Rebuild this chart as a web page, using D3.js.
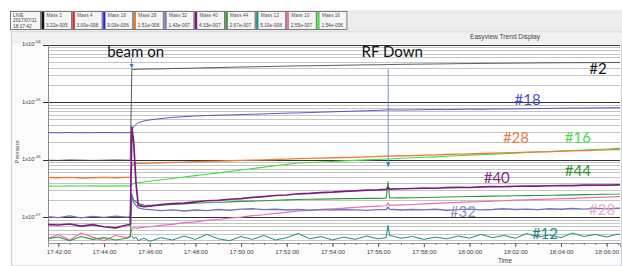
<!DOCTYPE html>
<html>
<head>
<meta charset="utf-8">
<script src="https://cdn.jsdelivr.net/npm/d3@7"></script>
<style>
  body { margin: 0; background: #fff; }
  svg { display: block; }
</style>
</head>
<body>
<div id="trend-chart"></div>
<script>
// pressures are kept in units of 1e-7
const UNIT = 1e-7;
const startTime = new Date(2017, 6, 11, 17, 41, 30);

// sample times, minutes after 17:41:30
const minutes = [0, 0.5, 1, 1.5, 2, 2.5, 3, 3.5, 3.65, 3.72, 3.8, 3.9, 4, 4.25,
  4.5, 5, 5.5, 6, 6.5, 7, 7.5, 8, 8.5, 9, 9.5, 10, 10.5, 11, 11.5, 12, 12.5, 13, 13.5, 14, 14.5,
  14.85, 14.93,
  15, 15.5, 16, 16.5, 17, 17.5, 18, 18.5, 19, 19.5, 20, 20.5, 21, 21.5, 22, 22.5, 23, 23.5, 24, 24.5, 25,
  25.1];

const mass2 = [9.8, 9.7, 9.9, 9.8, 9.7, 9.8, 9.9, 9.8, 9.8, 373, 370, 372, 375, 376,
  378, 380, 385, 388, 392, 398, 400, 405, 410, 412, 416, 420, 424, 428, 430, 433, 436, 440, 443, 446, 448,
  450, 452,
  452, 455, 458, 460, 462, 465, 468, 470, 472, 474, 476, 478, 480, 482, 484, 485, 486, 487, 488, 489, 490,
  490];
const mass18 = [29.5, 29.3, 29.6, 29.4, 29.5, 29.6, 29.4, 29.5, 29.5, 33, 37.5, 41, 44, 47,
  49, 52, 54.5, 56, 57.6, 58.5, 59.5, 60, 61, 61.6, 62.5, 63.5, 64.5, 65, 66, 67, 68, 69, 70, 71, 72,
  73, 74,
  73.5, 73, 73.5, 74, 74.5, 74, 75, 75.5, 75, 76, 76.2, 76.5, 77, 77.5, 78, 78.5, 79, 79.2, 79.6, 80, 80.2,
  80.2];
const mass28 = [4.9, 4.85, 4.9, 4.8, 4.85, 4.9, 4.85, 4.9, 4.9, 8.0, 8.5, 8.6, 8.6, 8.63,
  8.73, 8.83, 8.97, 9.08, 9.19, 9.31, 9.46, 9.57, 9.69, 9.84, 9.95, 10.07, 10.2, 10.4, 10.5, 10.6, 10.8, 10.9, 11.0, 11.2, 11.4,
  11.5, 11.5,
  11.5, 11.7, 11.8, 12.0, 12.1, 12.3, 12.5, 12.6, 12.8, 13.0, 13.1, 13.3, 13.5, 13.7, 13.8, 14.1, 14.2, 14.4, 14.6, 14.8, 15.0,
  15.0];
const mass16 = [3.5, 3.45, 3.5, 3.48, 3.5, 3.46, 3.5, 3.5, 3.5, 3.7, 3.9, 3.95, 3.98, 4.09,
  4.21, 4.46, 4.71, 4.98, 5.27, 5.57, 5.89, 6.23, 6.62, 7.0, 7.41, 7.83, 8.28, 8.77, 8.94, 9.12, 9.31, 9.53, 9.73, 9.93, 10.1,
  10.3, 10.3,
  10.3, 10.6, 10.8, 11.0, 11.2, 11.5, 11.7, 12.0, 12.2, 12.5, 12.7, 13.0, 13.3, 13.6, 13.8, 14.1, 14.4, 14.7, 15.0, 15.3, 15.7,
  15.7];
const mass40 = [0.74, 0.73, 0.76, 0.70, 0.74, 0.68, 0.65, 0.73, 0.74, 37, 20, 4.0, 1.6, 1.52,
  1.55, 1.65, 1.72, 1.76, 1.85, 1.93, 1.96, 2.05, 2.1, 2.2, 2.28, 2.38, 2.43, 2.55, 2.6, 2.68, 2.72, 2.8, 2.86, 2.95, 2.98,
  3.05, 3.3,
  3.08, 3.12, 3.15, 3.2, 3.18, 3.25, 3.3, 3.28, 3.35, 3.4, 3.38, 3.45, 3.48, 3.46, 3.52, 3.55, 3.53, 3.6, 3.62, 3.6, 3.65,
  3.65];
const mass44 = [0.42, 0.45, 0.39, 0.46, 0.41, 0.44, 0.40, 0.43, 0.45, 2.3, 2.0, 1.85, 1.72, 1.63,
  1.6, 1.62, 1.66, 1.7, 1.74, 1.78, 1.8, 1.84, 1.88, 1.9, 1.93, 1.97, 2.0, 2.03, 2.05, 2.06, 2.08, 2.1, 2.1, 2.12, 2.12,
  2.14, 4.1,
  2.15, 2.16, 2.18, 2.2, 2.22, 2.24, 2.26, 2.28, 2.3, 2.32, 2.33, 2.35, 2.37, 2.38, 2.4, 2.42, 2.44, 2.46, 2.48, 2.5, 2.52,
  2.53];
const mass32 = [1.02, 0.98, 1.05, 0.97, 1.03, 0.99, 1.04, 1.0, 1.02, 2.5, 1.8, 1.6, 1.45, 1.38,
  1.35, 1.3, 1.34, 1.28, 1.33, 1.3, 1.36, 1.32, 1.38, 1.4, 1.35, 1.37, 1.33, 1.36, 1.32, 1.35, 1.33, 1.36, 1.34, 1.31, 1.35,
  1.36, 1.5,
  1.37, 1.33, 1.36, 1.34, 1.37, 1.32, 1.35, 1.38, 1.34, 1.36, 1.4, 1.36, 1.38, 1.35, 1.4, 1.37, 1.41, 1.38, 1.42, 1.39, 1.43,
  1.43];
const mass10 = [0.42, 0.50, 0.40, 0.53, 0.45, 0.39, 0.48, 0.44, 0.47, 0.62, 0.66, 0.64, 0.65, 0.67,
  0.68, 0.72, 0.75, 0.8, 0.83, 0.88, 0.91, 0.96, 1.0, 1.06, 1.1, 1.16, 1.21, 1.28, 1.31, 1.36, 1.4, 1.43, 1.48, 1.52, 1.55,
  1.58, 1.75,
  1.6, 1.63, 1.66, 1.7, 1.73, 1.77, 1.8, 1.84, 1.86, 1.9, 1.93, 1.97, 2.0, 2.03, 2.06, 2.1, 2.12, 2.16, 2.2, 2.23, 2.27,
  2.27];
const mass12 = [null, null, null, null, null, null, null, null, null, 0.48, 0.42, 0.45, 0.39, 0.43,
  0.38, 0.44, 0.40, 0.47, 0.41, 0.50, 0.42, 0.39, 0.46, 0.41, 0.48, 0.40, 0.44, 0.52, 0.42, 0.46, 0.40, 0.45, 0.41, 0.47, 0.42,
  0.44, 0.72,
  0.48, 0.43, 0.46, 0.41, 0.45, 0.42, 0.47, 0.43, 0.50, 0.44, 0.48, 0.43, 0.52, 0.45, 0.49, 0.44, 0.53, 0.46, 0.50, 0.45, 0.51,
  0.49];

// legend strip across the top
const liveLines = ["LIVE", "2017/07/11", "18:17:42"];
const legendNames = ["Mass 2", "Mass 4", "Mass 18", "Mass 28", "Mass 32", "Mass 40", "Mass 44", "Mass 12", "Mass 10", "Mass 16"];
const legendValues = ["3.22e-005", "3.00e-008", "9.03e-006", "1.51e-006", "1.43e-007", "4.33e-007", "2.67e-007", "5.10e-008", "2.55e-007", "1.54e-006"];

const yTickValues = [1e-4, 1e-5, 1e-6, 1e-7];
const yTickExponents = ["-04", "-05", "-06", "-07"];

// hand-written labels on the plot
const labelTexts = ["#2", "#18", "#28", "#16", "#44", "#40", "#32", "#28", "#12"];
const labelMinutes = [24.12, 21.04, 20.53, 23.24, 23.24, 19.69, 18.21, 24.3, 21.8];
const labelValues = [394, 112, 25.1, 25.1, 6.62, 4.94, 1.28, 1.39, 0.537];

const beamOnMinute = 3.71;
const rfDownMinute = 14.94;

const colors = {
  "Mass 2": "#4a4a4a", "Mass 4": "#e52020", "Mass 18": "#4646c8", "Mass 28": "#ee7a36",
  "Mass 32": "#7474bc", "Mass 40": "#7b1c80", "Mass 44": "#2e9a34", "Mass 12": "#1f8a84",
  "Mass 10": "#ea6fb4", "Mass 16": "#3fe03f"
};
const legendColors = Object.assign({}, colors, { "Mass 2": "#111", "Mass 18": "#2020e0" });
const labelColors = ["#111", "#4b4bd0", "#ea7a40", "#46dc3e", "#2f8f2f", "#7d2a88", "#8c8cc8", "#f2a6cc", "#1d8a84"];

const toTime = m => new Date(startTime.getTime() + m * 60000);

const W = 622, H = 266;
const plot = { left: 48, right: 620, top: 44.7, bottom: 243 };

const svg = d3.select("#trend-chart").append("svg")
  .attr("width", W).attr("height", H)
  .style("font-family", "'Liberation Sans', Arial, sans-serif");

// window frame
svg.append("rect").attr("x", 10).attr("y", 10).attr("width", W - 10).attr("height", 22).attr("fill", "#ececec");
svg.append("rect").attr("x", 11.5).attr("y", 32).attr("width", W - 12).attr("height", H - 32)
  .attr("fill", "#fbfbfb").attr("stroke", "#c9d0da");
svg.append("rect").attr("x", 12).attr("y", 32.5).attr("width", W - 12).attr("height", 12)
  .attr("fill", "#f1f1f1");

// LIVE box
const live = svg.append("g");
live.append("rect").attr("x", 10.5).attr("y", 11.5).attr("width", 30).attr("height", 18)
  .attr("fill", "#f5f5f5").attr("stroke", "#7a7a7a");
live.selectAll("text").data(liveLines).join("text")
  .attr("x", 13).attr("y", (d, i) => 16.5 + i * 5.5)
  .attr("font-size", 4.8).attr("fill", "#444").text(d => d);

// legend boxes
const legend = svg.append("g").selectAll("g").data(legendNames).join("g")
  .attr("transform", (d, i) => `translate(${41.5 + i * 30.6},11.5)`);
legend.append("rect").attr("width", 30).attr("height", 18)
  .attr("fill", "#f5f5f5").attr("stroke", "#7a7a7a");
legend.append("rect").attr("x", 0.5).attr("y", 0.5).attr("width", 2.2).attr("height", 17)
  .attr("fill", d => legendColors[d]);
legend.append("text").attr("x", 5).attr("y", 5.5).attr("font-size", 4.8).attr("fill", "#555").text(d => d);
legend.append("text").attr("x", 4.5).attr("y", 15.5).attr("font-size", 4.8).attr("fill", "#444")
  .text((d, i) => legendValues[i]);

// title
svg.append("text").attr("x", 505).attr("y", 38.5).attr("text-anchor", "middle")
  .attr("font-size", 6.6).attr("fill", "#444").text("Easyview Trend Display");

// scales
const x = d3.scaleTime()
  .domain([new Date(2017, 6, 11, 17, 41, 33), new Date(2017, 6, 11, 18, 6, 35)])
  .range([plot.left, plot.right]);
const y = d3.scaleLog()
  .domain([3.55e-8, 1e-4])
  .range([plot.bottom, plot.top]);

svg.append("rect").attr("x", plot.left).attr("y", plot.top)
  .attr("width", plot.right - plot.left).attr("height", plot.bottom - plot.top).attr("fill", "#fff");

// log grid
const minorGrid = [];
for (let e = -8; e <= -5; e++) for (let k = 2; k <= 9; k++) minorGrid.push(k * Math.pow(10, e));
svg.append("g").selectAll("line").data(minorGrid.filter(v => v >= 3.55e-8 && v < 1e-4)).join("line")
  .attr("x1", plot.left).attr("x2", plot.right)
  .attr("y1", d => Math.round(y(d)) + 0.5).attr("y2", d => Math.round(y(d)) + 0.5)
  .attr("stroke", "#c4c4c4").attr("stroke-width", 1);
svg.append("g").selectAll("line").data(yTickValues).join("line")
  .attr("x1", plot.left - 5).attr("x2", plot.right)
  .attr("y1", d => Math.round(y(d)) + 0.5).attr("y2", d => Math.round(y(d)) + 0.5)
  .attr("stroke", "#333").attr("stroke-width", 1);

// y tick labels 1x10^-0n
const yLabels = svg.append("g").selectAll("text").data(yTickValues).join("text")
  .attr("x", 22).attr("y", d => y(d) + 1.5)
  .attr("font-size", 5.8).attr("fill", "#444");
yLabels.append("tspan").text("1x10");
yLabels.append("tspan").attr("dy", -3).attr("font-size", 4.2).text((d, i) => yTickExponents[i]);

svg.append("line").attr("x1", plot.left + 0.5).attr("x2", plot.left + 0.5)
  .attr("y1", plot.top).attr("y2", plot.bottom).attr("stroke", "#8a8a8a");

svg.append("text").attr("transform", `translate(19,${(plot.top + plot.bottom) / 2 + 8}) rotate(-90)`)
  .attr("text-anchor", "middle").attr("font-size", 5.8).attr("fill", "#555").text("Pressure");

// x axis
const xAxis = svg.append("g").attr("transform", `translate(0,${plot.bottom})`)
  .call(d3.axisBottom(x).ticks(d3.timeMinute.every(2)).tickFormat(d3.timeFormat("%H:%M:%S")).tickSize(4).tickPadding(3));
xAxis.select(".domain").attr("stroke", "#999");
xAxis.selectAll(".tick line").attr("stroke", "#555");
xAxis.selectAll("text").attr("font-size", 6.2).attr("fill", "#444").attr("font-family", "'Liberation Sans', Arial, sans-serif");
svg.append("g").attr("transform", `translate(0,${plot.bottom})`)
  .call(d3.axisBottom(x).ticks(d3.timeSecond.every(30)).tickFormat("").tickSize(2))
  .call(g => g.select(".domain").remove())
  .selectAll(".tick line").attr("stroke", "#777");
svg.append("text").attr("x", 505).attr("y", 263).attr("text-anchor", "middle")
  .attr("font-size", 6.4).attr("fill", "#444").text("Time");

// series
svg.append("clipPath").attr("id", "plot-clip").append("rect")
  .attr("x", plot.left).attr("y", plot.top)
  .attr("width", plot.right - plot.left).attr("height", plot.bottom - plot.top);

const series = [
  { name: "Mass 12", values: mass12, width: 1 },
  { name: "Mass 10", values: mass10, width: 1.2 },
  { name: "Mass 44", values: mass44, width: 1.1 },
  { name: "Mass 32", values: mass32, width: 1.4 },
  { name: "Mass 16", values: mass16, width: 1.1 },
  { name: "Mass 28", values: mass28, width: 1.3 },
  { name: "Mass 18", values: mass18, width: 0.9 },
  { name: "Mass 2", values: mass2, width: 0.9 },
  { name: "Mass 40", values: mass40, width: 1.7 }
];

const line = d3.line()
  .defined(d => d.v != null)
  .x(d => x(toTime(d.m)))
  .y(d => y(d.v * UNIT));

svg.append("g").attr("clip-path", "url(#plot-clip)")
  .selectAll("path").data(series).join("path")
  .attr("d", s => line(minutes.map((m, i) => ({ m, v: s.values[i] }))))
  .attr("fill", "none")
  .attr("stroke", s => colors[s.name])
  .attr("stroke-width", s => s.width)
  .attr("stroke-linejoin", "round");

// annotations
svg.append("defs").append("marker")
  .attr("id", "arrow").attr("viewBox", "0 0 10 10").attr("refX", 10).attr("refY", 5)
  .attr("markerWidth", 5).attr("markerHeight", 5).attr("orient", "auto")
  .append("path").attr("d", "M0,0L10,5L0,10Z").attr("fill", "#4a78c0");

const notes = [
  { text: "beam on", m: beamOnMinute, to: mass2[9] },
  { text: "RF Down", m: rfDownMinute, to: 7.2 }
];
notes.forEach(n => {
  const nx = x(toTime(n.m));
  svg.append("text").attr("x", nx + 4).attr("y", 56.5).attr("text-anchor", "middle")
    .attr("font-family", "Lato, 'Open Sans', sans-serif").attr("font-size", 15).attr("fill", "#111")
    .text(n.text);
  svg.append("line").attr("x1", nx).attr("x2", nx)
    .attr("y1", n.text === "beam on" ? 58 : 69).attr("y2", y(n.to * UNIT) - 1)
    .attr("stroke", "#6a86b4").attr("stroke-width", 0.9).attr("marker-end", "url(#arrow)");
});

svg.append("g").selectAll("text").data(labelTexts).join("text")
  .attr("x", (d, i) => x(toTime(labelMinutes[i])))
  .attr("y", (d, i) => y(labelValues[i] * UNIT))
  .attr("text-anchor", "middle").attr("dominant-baseline", "central")
  .attr("font-family", "Lato, 'Open Sans', sans-serif").attr("font-size", 15)
  .attr("fill", (d, i) => labelColors[i])
  .text(d => d);
</script>
</body>
</html>
